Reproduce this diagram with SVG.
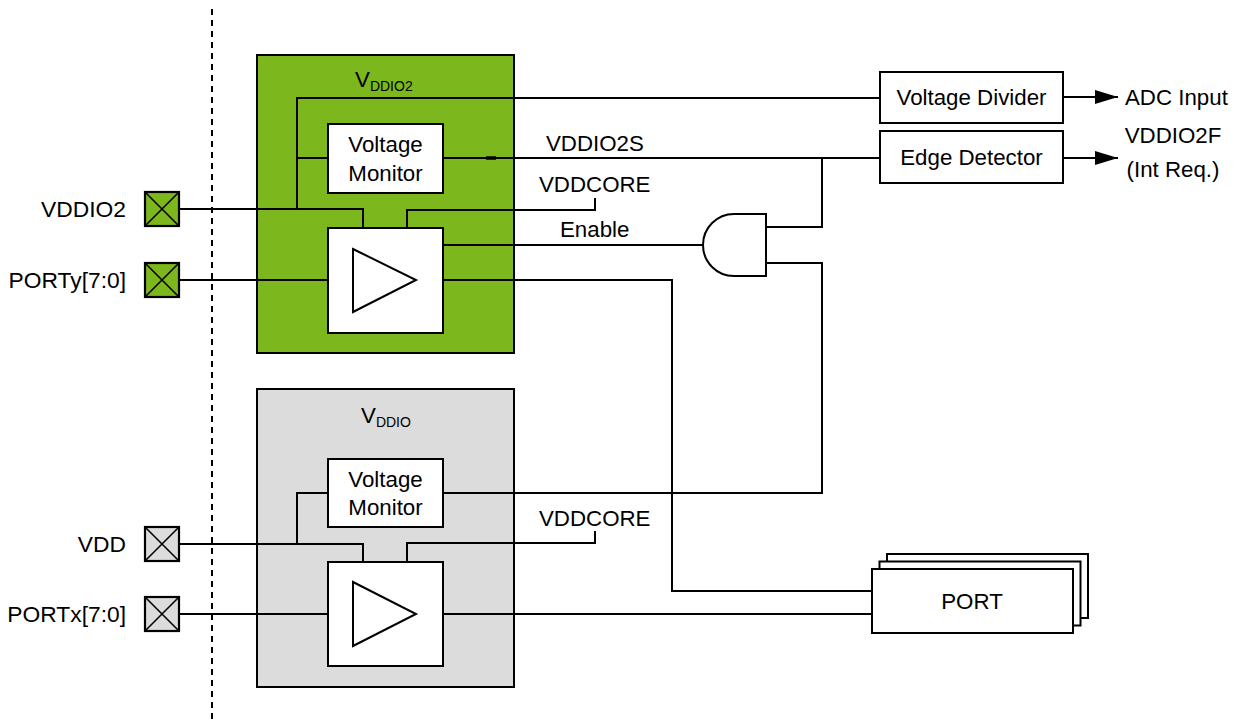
<svg xmlns="http://www.w3.org/2000/svg" width="1244" height="723" viewBox="0 0 1244 723">
<style>
text{font-family:"Liberation Sans",Arial,sans-serif;font-size:22.3px;fill:#000}
.sub{font-size:14px}
.mid{text-anchor:middle}
.end{text-anchor:end;font-size:22.8px}
.w{fill:#fff;stroke:#000;stroke-width:2}
.dom-g{fill:#7db71e;stroke:#000;stroke-width:2}
.dom-s{fill:#dcdcdc;stroke:#000;stroke-width:2}
.pad-g{fill:#7db71e;stroke:#000;stroke-width:2.2}
.pad-s{fill:#dcdcdc;stroke:#000;stroke-width:2.2}
.x{stroke:#000;stroke-width:1.6;fill:none}
.c{fill:none;stroke:#000;stroke-width:2}
</style>
<defs>
<marker id="arr" markerUnits="userSpaceOnUse" markerWidth="24" markerHeight="16" refX="23" refY="8" orient="auto">
<path d="M0,1 L23,8 L0,15 Z" fill="#000"/>
</marker>
</defs>
<rect width="1244" height="723" fill="#fff"/>
<line x1="212" y1="9" x2="212" y2="722" stroke="#000" stroke-width="2" stroke-dasharray="6 5"/>

<g id="domain-vddio2">
<rect class="dom-g" x="257" y="55" width="257" height="298"/>
<text x="355" y="87">V<tspan class="sub" dy="4">DDIO2</tspan></text>
</g>
<g id="domain-vddio">
<rect class="dom-s" x="257" y="389" width="257" height="298"/>
<text x="361" y="423">V<tspan class="sub" dy="4">DDIO</tspan></text>
</g>

<g id="connectors">
<path class="c" d="M179,209 H363 V228"/>
<path class="c" d="M297,209 V98 H880"/>
<path class="c" d="M297,158 H328"/>
<path class="c" d="M443,158 H880"/>
<line x1="486" y1="158" x2="496" y2="158" stroke="#000" stroke-width="3.5"/>
<path class="c" d="M822,158 V227 H766"/>
<path class="c" d="M407,228 V210 H595 V198"/>
<path class="c" d="M443,245 H704"/>
<path class="c" d="M179,280 H353"/>
<path class="c" d="M416,280 H672 V591 H872"/>
<path class="c" d="M443,493 H822 V263 H766"/>
<path class="c" d="M179,544 H363 V562"/>
<path class="c" d="M297,544 V493 H328"/>
<path class="c" d="M407,562 V543 H595 V531"/>
<path class="c" d="M179,614 H353"/>
<path class="c" d="M416,614 H872"/>
<path class="c" d="M1063,97 H1118" marker-end="url(#arr)"/>
<path class="c" d="M1063,158 H1118" marker-end="url(#arr)"/>
</g>

<g id="pad-vddio2">
<rect class="pad-g" x="145" y="192" width="34" height="34"/>
<path class="x" d="M145,192 L179,226 M179,192 L145,226"/>
</g>
<g id="pad-porty">
<rect class="pad-g" x="145" y="263" width="34" height="34"/>
<path class="x" d="M145,263 L179,297 M179,263 L145,297"/>
</g>
<g id="pad-vdd">
<rect class="pad-s" x="145" y="527" width="34" height="34"/>
<path class="x" d="M145,527 L179,561 M179,527 L145,561"/>
</g>
<g id="pad-portx">
<rect class="pad-s" x="145" y="597" width="34" height="34"/>
<path class="x" d="M145,597 L179,631 M179,597 L145,631"/>
</g>

<g id="labels-left">
<text class="end" x="126" y="217">VDDIO2</text>
<text class="end" x="126" y="288">PORTy[7:0]</text>
<text class="end" x="126" y="552">VDD</text>
<text class="end" x="126" y="622">PORTx[7:0]</text>
</g>

<g id="monitor-vddio2">
<rect class="w" x="328" y="124" width="115" height="69"/>
<text class="mid" x="385.5" y="152">Voltage</text>
<text class="mid" x="385.5" y="181">Monitor</text>
</g>
<g id="buffer-vddio2">
<rect class="w" x="328" y="228" width="115" height="105"/>
<path class="w" d="M353,249 L416,280 L353,312 Z"/>
</g>
<g id="monitor-vddio">
<rect class="w" x="328" y="459" width="115" height="68"/>
<text class="mid" x="385.5" y="487">Voltage</text>
<text class="mid" x="385.5" y="515">Monitor</text>
</g>
<g id="buffer-vddio">
<rect class="w" x="328" y="562" width="115" height="104"/>
<path class="w" d="M353,582 L416,614 L353,646 Z"/>
</g>

<g id="signal-labels">
<text x="546" y="151">VDDIO2S</text>
<text x="539" y="192">VDDCORE</text>
<text x="560" y="237">Enable</text>
<text x="539" y="526">VDDCORE</text>
</g>

<g id="and-gate">
<path class="w" d="M734,214 H766 V276 H734 A31,31 0 0 1 734,214 Z"/>
</g>

<g id="voltage-divider">
<rect class="w" x="880" y="72" width="183" height="51"/>
<text class="mid" x="971.5" y="105">Voltage Divider</text>
</g>
<g id="edge-detector">
<rect class="w" x="880" y="131" width="183" height="52"/>
<text class="mid" x="971.5" y="165">Edge Detector</text>
</g>
<g id="out-labels">
<text x="1125" y="105">ADC Input</text>
<text class="mid" x="1173" y="143">VDDIO2F</text>
<text class="mid" x="1173" y="177">(Int Req.)</text>
</g>

<g id="port">
<rect class="w" x="887" y="554" width="201" height="64"/>
<rect class="w" x="879.5" y="561.5" width="201" height="64"/>
<rect class="w" x="872" y="569" width="201" height="64"/>
<text class="mid" x="972" y="609">PORT</text>
</g>
</svg>
